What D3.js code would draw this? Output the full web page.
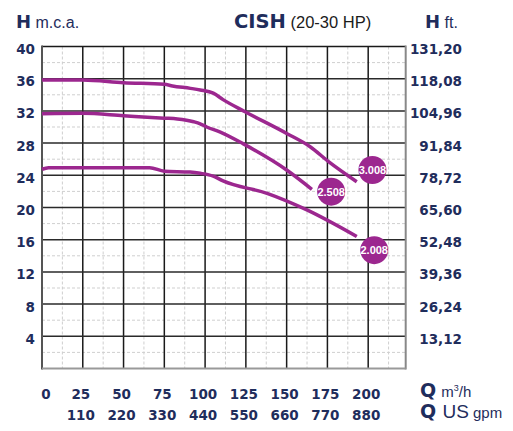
<!DOCTYPE html>
<html><head><meta charset="utf-8">
<script src="https://cdn.jsdelivr.net/npm/d3@7"></script>
<style>body{margin:0;background:#fff}svg{display:block}</style>
</head><body>
<script>
// ---- data ----
const hTicks = [4, 8, 12, 16, 20, 24, 28, 32, 36, 40];
const ftLabels = ["13,12","26,24","39,36","52,48","65,60","78,72","91,84","104,96","118,08","131,20"];
const qTicks = [0, 25, 50, 75, 100, 125, 150, 175, 200];
const gpmLabels = ["", "110","220","330","440","550","660","770","880"];

const q3008 = [0, 25, 50, 75, 80, 91, 97, 105, 111, 124.5, 150, 164.4, 175.7, 193];
const h3008 = [35.85, 35.85, 35.5, 35.3, 35.1, 34.8, 34.6, 34.2, 33.4, 31.9, 29.2, 27.55, 25.7, 23.2];
const q2508 = [0, 25, 50, 75, 83, 93, 97, 101, 109, 123.5, 150, 165.5];
const h2508 = [31.65, 31.7, 31.4, 31.1, 31.0, 30.65, 30.4, 30.0, 29.4, 27.9, 24.66, 22.26];
const q2008 = [0, 4, 25, 50, 66, 75, 90.8, 97, 105, 111, 138, 162.4, 193];
const h2008 = [24.75, 24.95, 24.95, 24.95, 24.95, 24.5, 24.4, 24.25, 23.9, 23.3, 21.76, 19.7, 16.4];

const models = ["3.008", "2.508", "2.008"];
const labelQ = [202.6, 177.3, 203.7];
const labelH = [24.66, 21.96, 14.7];

// ---- setup ----
const W = 513, H = 431;
const navy = "#1f2d5c", purple = "#9c278f";
const svg = d3.select("body").append("svg").attr("width", W).attr("height", H);
const x = d3.scaleLinear().domain([0, 223]).range([42, 405.7]);
const y = d3.scaleLinear().domain([0, 40]).range([368.5, 46.5]);

const g = svg.append("g");
// minor grid
const minorQ = d3.range(12.5, 223, 25);
const minorH = d3.range(2, 40, 4);
g.selectAll(".mv").data(minorQ).join("line")
  .attr("x1", d => x(d)).attr("x2", d => x(d)).attr("y1", y(40)).attr("y2", y(0))
  .attr("stroke", "#cfcfcf").attr("stroke-width", 1).attr("stroke-dasharray", "3,2");
g.selectAll(".mh").data(minorH).join("line")
  .attr("x1", x(0)).attr("x2", x(223)).attr("y1", d => y(d)).attr("y2", d => y(d))
  .attr("stroke", "#cfcfcf").attr("stroke-width", 1).attr("stroke-dasharray", "3,2");
// major grid
g.selectAll(".Mv").data(qTicks.slice(1)).join("line")
  .attr("x1", d => x(d)).attr("x2", d => x(d)).attr("y1", y(40)).attr("y2", y(0))
  .attr("stroke", "#1a1a1a").attr("stroke-width", 1.5);
g.selectAll(".Mh").data(hTicks).join("line")
  .attr("x1", x(0)).attr("x2", x(223)).attr("y1", d => y(d)).attr("y2", d => y(d))
  .attr("stroke", d => d === 40 ? "#1a1a1a" : "#2a2a2a").attr("stroke-width", 1.5);
// borders
g.append("line").attr("x1", x(0)).attr("x2", x(0)).attr("y1", y(40) - 1).attr("y2", y(0) + 1)
  .attr("stroke", "#555").attr("stroke-width", 2);
g.append("line").attr("x1", x(223)).attr("x2", x(223)).attr("y1", y(40) - 1).attr("y2", y(0) + 1)
  .attr("stroke", "#888").attr("stroke-width", 2);
g.append("line").attr("x1", x(0)).attr("x2", x(223)).attr("y1", y(0)).attr("y2", y(0))
  .attr("stroke", "#999").attr("stroke-width", 2);

// y labels
const bold = "'DejaVu Sans', sans-serif";
g.selectAll(".yl").data(hTicks).join("text")
  .attr("x", 35).attr("y", d => y(d) + 7.5).attr("text-anchor", "end")
  .attr("font-family", bold).attr("font-weight", "bold").attr("font-size", 13.5)
  .attr("fill", navy).text(d => d);
g.selectAll(".yr").data(hTicks).join("text")
  .attr("x", 462).attr("y", d => y(d) + 7.5).attr("text-anchor", "end")
  .attr("font-family", bold).attr("font-weight", "bold").attr("font-size", 13.5)
  .attr("fill", navy).text((d, i) => ftLabels[i]);
// x labels
g.selectAll(".xl").data(qTicks).join("text")
  .attr("x", d => d === 0 ? x(d) + 4 : x(d) - 2).attr("y", 399).attr("text-anchor", "middle")
  .attr("font-family", bold).attr("font-weight", "bold").attr("font-size", 13.5)
  .attr("fill", navy).text(d => d);
g.selectAll(".xg").data(qTicks).join("text")
  .attr("x", d => x(d) - 2).attr("y", 420).attr("text-anchor", "middle")
  .attr("font-family", bold).attr("font-weight", "bold").attr("font-size", 13.5)
  .attr("fill", navy).text((d, i) => gpmLabels[i]);

// titles
const reg = "'Liberation Sans', Arial, sans-serif";
function label(xp, yp, parts) {
  const t = svg.append("text").attr("x", xp).attr("y", yp);
  parts.forEach(p => t.append("tspan").attr("font-family", p.f).attr("font-weight", p.w || "normal")
    .attr("font-size", p.s).attr("fill", p.c || navy).attr("dx", p.dx || 0).attr("dy", p.dy || 0).text(p.t));
  return t;
}
label(16, 28, [{t: "H", f: bold, w: "bold", s: 18}, {t: " m.c.a.", f: reg, s: 16}]);
label(234, 28, [{t: "CISH", f: bold, w: "bold", s: 19.5}, {t: " (20-30 HP)", f: reg, s: 16.5, c: "#1b1b1b"}]);
label(425, 28, [{t: "H", f: bold, w: "bold", s: 18}, {t: " ft.", f: reg, s: 16}]);
label(420, 397, [{t: "Q", f: bold, w: "bold", s: 19}, {t: " m", f: reg, s: 15, dx: 1}, {t: "3", f: reg, s: 9, dy: -6}, {t: "/h", f: reg, s: 15, dy: 6}]);
label(420, 418, [{t: "Q", f: bold, w: "bold", s: 19}, {t: " US", f: reg, s: 19, dx: 1}, {t: " gpm", f: reg, s: 15}]);

// curves
const series = [[q3008, h3008], [q2508, h2508], [q2008, h2008]];
const line = d3.line().x(d => x(d[0])).y(d => y(d[1])).curve(d3.curveMonotoneX);
svg.selectAll(".curve").data(series).join("path")
  .attr("d", s => line(s[0].map((q, i) => [q, s[1][i]])))
  .attr("fill", "none").attr("stroke", purple).attr("stroke-width", 3.5);

// badges
const badges = svg.selectAll(".badge").data(models).join("g")
  .attr("transform", (d, i) => `translate(${x(labelQ[i])},${y(labelH[i])})`);
badges.append("circle").attr("r", 14).attr("fill", purple);
badges.append("text").attr("text-anchor", "middle").attr("y", 4)
  .attr("font-family", reg).attr("font-weight", "bold").attr("font-size", 11)
  .attr("fill", "#fff").text(d => d);
</script>
</body></html>
